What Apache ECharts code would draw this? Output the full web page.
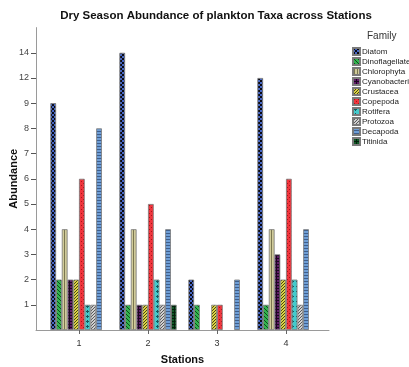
<!DOCTYPE html>
<html><head><meta charset="utf-8">
<script src="https://cdn.jsdelivr.net/npm/echarts@6/dist/echarts.min.js"></script>
<style>html,body{margin:0;padding:0;background:#fff}#c{width:409px;height:367px}</style>
</head><body><div id="c"></div>
<script>
// ---- data ----
const stations = ['1', '2', '3', '4'];
const families = ['Diatom','Dinoflagellates','Chlorophyta','Cyanobacteria','Crustacea','Copepoda','Rotifera','Protozoa','Decapoda','Titinida'];
// ordinal y-axis levels (SPSS treats abundance as ordinal categories)
const yLevels = [1, 2, 3, 4, 5, 6, 7, 8, 9, 12, 14];
const diatom = [9, 14, 2, 12];
const dinoflagellates = [2, 1, 1, 1];
const chlorophyta = [4, 4, null, 4];
const cyanobacteria = [2, 1, null, 3];
const crustacea = [2, 1, 1, 2];
const copepoda = [6, 5, 1, 6];
const rotifera = [1, 2, null, 2];
const protozoa = [1, 1, null, 1];
const decapoda = [8, 4, 2, 4];
const titinida = [null, 1, null, null];
const seriesValues = [diatom, dinoflagellates, chlorophyta, cyanobacteria, crustacea, copepoda, rotifera, protozoa, decapoda, titinida];

// ---- patterns ----
function pat(size, bg, fg, draw) {
  const c = document.createElement('canvas'); c.width = size; c.height = size;
  const x = c.getContext('2d');
  x.fillStyle = bg; x.fillRect(0, 0, size, size);
  x.fillStyle = fg; x.strokeStyle = fg; x.lineWidth = 1;
  draw(x, size);
  return { image: c, repeat: 'repeat' };
}
const patterns = [
  pat(4, '#4566c4', '#0a0a14', (x) => { x.fillRect(0,0,2,2); x.fillRect(2,2,2,2); }),
  pat(4, '#32b54e', '#0c4a1c', (x) => { for (let i=0;i<4;i++){ x.fillRect(i,i,1,1);} }),
  pat(3, '#d0cb9a', '#7a7650', (x) => { x.fillRect(1,0,1,3); }),
  pat(3, '#601c66', '#1a0520', (x) => { x.fillRect(0,0,3,1); x.fillRect(0,0,1,3); }),
  pat(3, '#dcd644', '#4a4410', (x) => { x.fillRect(0,0,1,1); x.fillRect(2,1,1,1); x.fillRect(1,2,1,1); }),
  pat(4, '#f0343c', '#a81418', (x) => { x.fillRect(1,1,1,1); x.fillRect(3,3,1,1); }),
  pat(5, '#44cacc', '#145a5e', (x) => { x.fillRect(2,0,1,3); x.fillRect(1,1,3,1); }),
  pat(3, '#d0d0d0', '#5a5a5a', (x) => { x.fillRect(2,0,1,1); x.fillRect(1,1,1,1); x.fillRect(0,2,1,1); }),
  pat(3, '#6e9ed6', '#3e5e8c', (x) => { x.fillRect(0,2,3,1); }),
  pat(3, '#105826', '#02200a', (x) => { x.fillRect(0,0,3,1); x.fillRect(0,0,1,3); })
];

const rank = (v) => (v == null ? null : yLevels.indexOf(v) + 1);

const FONT = 'Liberation Sans, Arial, sans-serif';
const chart = echarts.init(document.getElementById('c'), null, { renderer: 'canvas' });

const series = families.map((name, i) => ({
  name, type: 'bar', xAxisIndex: 1, yAxisIndex: 1,
  barGap: '0%', barCategoryGap: '17%',
  itemStyle: { color: patterns[i], borderColor: '#7a7a7a', borderWidth: 0.8 },
  emphasis: { disabled: true },
  data: seriesValues[i].map(rank)
}));

const TOP = 27.6, BASE = 330;
chart.setOption({
  animation: false,
  backgroundColor: '#fff',
  textStyle: { fontFamily: FONT },
  title: [
    { text: 'Dry Season Abundance of plankton Taxa across Stations', left: 211, top: 5, textAlign: 'center',
      textStyle: { fontSize: 11.5, fontWeight: 'bold', color: '#111', fontFamily: FONT } },
    { text: 'Family', left: 362, top: 26, textStyle: { fontSize: 10, fontWeight: 'normal', color: '#333', fontFamily: FONT } }
  ],
  legend: {
    orient: 'vertical', left: 352, top: 47, itemWidth: 7, itemHeight: 7, itemGap: 1, padding: 0,
    icon: 'rect',
    textStyle: { fontSize: 8, color: '#222', padding: [0, 0, 0, -3], fontFamily: FONT, lineHeight: 8 },
    data: families
  },
  grid: [
    { left: 36, top: TOP, width: 293, height: BASE - TOP, outerBoundsMode: 'none', containLabel: false },
    { left: 44.5, top: TOP, width: 276, height: BASE - TOP, outerBoundsMode: 'none', containLabel: false }
  ],
  xAxis: [
    { type: 'value', gridIndex: 0, min: 0, max: 1, offset: 2,
      axisLine: { show: true, lineStyle: { color: '#9a9a9a', width: 1 } },
      axisTick: { show: false }, axisLabel: { show: false }, splitLine: { show: false },
      name: 'Stations', nameLocation: 'middle', nameGap: 22, nameMoveOverlap: false,
      nameTextStyle: { fontSize: 11, fontWeight: 'bold', color: '#111', fontFamily: FONT } },
    { type: 'category', gridIndex: 1, data: stations, offset: 3,
      axisLine: { show: false },
      axisTick: { show: true, alignWithLabel: true, length: 4, lineStyle: { color: '#666' } },
      axisLabel: { fontSize: 9, color: '#333', margin: 6, fontFamily: FONT } }
  ],
  yAxis: [
    { type: 'value', gridIndex: 0, min: 0, max: 12,
      axisLine: { show: true, lineStyle: { color: '#9a9a9a', width: 1 } },
      axisTick: { show: true, length: 5, inside: false, customValues: yLevels.map((v, i) => i + 1), lineStyle: { color: '#555' } },
      axisLabel: { fontSize: 9, color: '#444', margin: 7, fontFamily: FONT,
        customValues: yLevels.map((v, i) => i + 1),
        formatter: (r) => (r >= 1 && r <= yLevels.length ? String(yLevels[r - 1]) : '') },
      splitLine: { show: false },
      name: 'Abundance', nameLocation: 'middle', nameGap: 16.5, nameMoveOverlap: false,
      nameTextStyle: { fontSize: 11, fontWeight: 'bold', color: '#111', fontFamily: FONT } },
    { type: 'value', gridIndex: 1, min: 0, max: 12, show: false, splitLine: { show: false } }
  ],
  series
});
</script></body></html>
